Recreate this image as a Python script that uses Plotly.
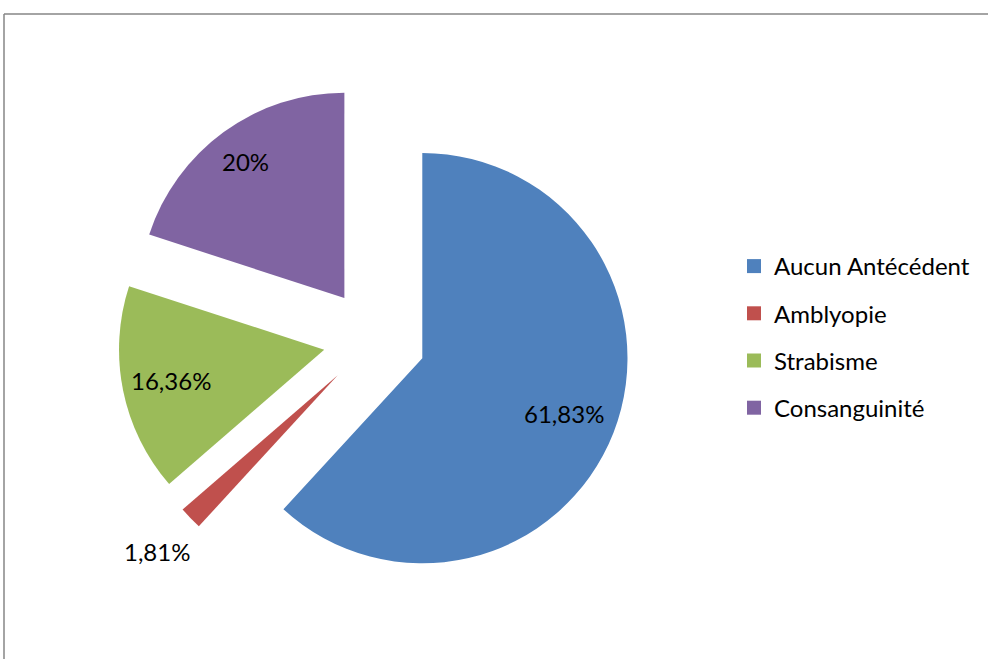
import math
import plotly.graph_objects as go

categories = ["Aucun Antécédent", "Amblyopie", "Strabisme", "Consanguinité"]
values = [61.83, 1.81, 16.36, 20]
labels_txt = ["61,83%", "1,81%", "16,36%", "20%"]
colors = ["#4F81BD", "#C0504D", "#9BBB59", "#8064A2"]
# how far from the slice tip the label sits, as a fraction of the radius
label_r = [0.74, 1.23, 0.76, 0.82]

FONT = "Lato"
W, H = 988, 659
PULL = 0.25
dom_x = [118 / W, 631 / W]
dom_y = [1 - 596 / H, 1 - 83 / H]

fig = go.Figure()
fig.add_trace(go.Pie(
    labels=categories, values=values,
    textinfo="none",
    sort=False, direction="clockwise", rotation=0,
    pull=[PULL] * len(values),
    marker=dict(colors=colors, line=dict(width=0)),
    showlegend=False,
    hoverinfo="label+percent",
    domain=dict(x=dom_x, y=dom_y),
))

# legend drawn with dummy traces so the rows can be spaced like the original
for name, col in zip(categories, colors):
    fig.add_trace(go.Scatter(
        x=[None], y=[None], mode="markers", name=name, legendgroup=name,
        marker=dict(symbol="square", size=14, color=col),
    ))

# percentage labels placed along each slice's mid angle (same geometry plotly uses)
cx = W * (dom_x[0] + dom_x[1]) / 2
cy = H * (1 - (dom_y[0] + dom_y[1]) / 2)
R = min(W * (dom_x[1] - dom_x[0]), H * (dom_y[1] - dom_y[0])) / 2 / (1 + PULL)
total = sum(values)
cum = 0
annotations = []
for v, txt, f in zip(values, labels_txt, label_r):
    mid = math.radians((cum + v / 2) / total * 360)
    cum += v
    dx, dy = math.sin(mid), -math.cos(mid)
    px = cx + (PULL + f) * R * dx
    py = cy + (PULL + f) * R * dy
    annotations.append(dict(
        x=px / W, y=1 - py / H, xref="paper", yref="paper",
        xanchor="center", yanchor="middle",
        text=txt, showarrow=False,
        font=dict(family=FONT, size=24, color="black"),
    ))

fig.update_layout(
    width=W, height=H,
    margin=dict(l=0, r=0, t=0, b=0, autoexpand=False),
    paper_bgcolor="white", plot_bgcolor="white",
    font=dict(family=FONT, color="black"),
    xaxis=dict(visible=False), yaxis=dict(visible=False),
    legend=dict(
        x=734 / W, y=1 - 244 / H, xanchor="left", yanchor="top",
        traceorder="grouped", tracegroupgap=13,
        font=dict(family=FONT, size=24, color="black"),
        bgcolor="rgba(0,0,0,0)",
    ),
    annotations=annotations,
    shapes=[
        dict(type="line", xref="paper", yref="paper", x0=4 / W, x1=1.0,
             y0=1 - 14 / H, y1=1 - 14 / H, line=dict(color="#868686", width=1.5)),
        dict(type="line", xref="paper", yref="paper", x0=4 / W, x1=4 / W,
             y0=0, y1=1 - 14 / H, line=dict(color="#868686", width=1.5)),
    ],
)

fig.write_html(
    "out.html",
    config={"displayModeBar": False},
    post_script="document.body.style.margin='0';document.body.style.overflow='hidden';",
)
